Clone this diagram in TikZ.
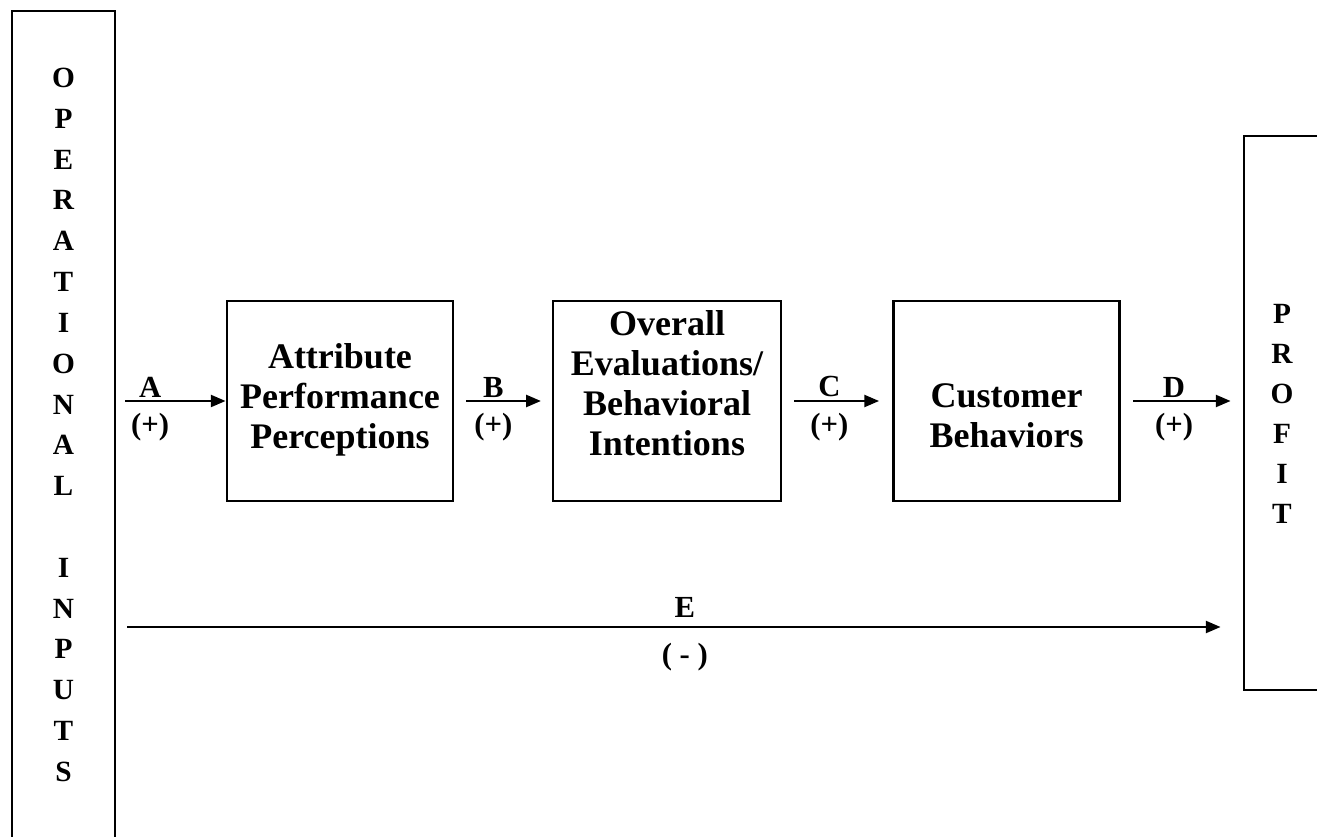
\documentclass[tikz,border=0pt]{standalone}
\usepackage{fontspec}
\setmainfont{Liberation Serif}
\usetikzlibrary{arrows.meta,positioning,calc}

\begin{document}
\begin{tikzpicture}[
  x=0.75pt, y=-0.75pt,
  frame/.style={draw=black, line width=2.2pt, inner sep=0pt},
  stage/.style={draw=black, line width=2.2pt, inner sep=0pt, minimum height=150pt},
  caption/.style={align=center, inner sep=0pt, font=\fontsize{27}{30}\selectfont\bfseries},
  flow/.style={draw=black, line width=1.6pt, -{Triangle[length=11pt,width=9pt]}},
  sign/.style={font=\fontsize{23}{24}\selectfont\bfseries, inner sep=2pt},
  letter/.style={font=\fontsize{22}{22}\selectfont\bfseries, inner sep=0pt}
]
  \useasboundingbox (0,0) rectangle (1317,837);
  \clip (0,0) rectangle (1317,837);
  % side frames, both run past the edge of the page
  \node[frame, minimum width=77.25pt, minimum height=666.75pt] (opin) at (63.5,455.5) {};
  \node[frame, minimum width=132pt, minimum height=415.5pt] (profit) at (1332,413) {};
  \foreach \ch/\k in {O/0,P/1,E/2,R/3,A/4,T/5,I/6,O/7,N/8,A/9,L/10,I/12,N/13,P/14,U/15,T/16,S/17}
    \node[letter] (op\k) at (63.5, 78+\k*40.8) {\ch};
  \foreach \ch/\k in {P/0,R/1,O/2,F/3,I/4,T/5}
    \node[letter] (pf\k) at (1282, 314+\k*40) {\ch};
  % the chain of stages
  \node[stage, minimum width=169.5pt] (attr) at (340,401) {};
  \node[stage, minimum width=171pt] (overall) at (667,401) {};
  \node[stage, minimum width=170pt] (cust) at (1006.5,401) {};
  \node[caption] (attrTxt) at (340,400) {Attribute\\Performance\\Perceptions};
  \node[caption] (overallTxt) at (667,383) {Overall\\Evaluations/\\Behavioral\\Intentions};
  \node[caption] (custTxt) at (1006.5,416) {Customer\\Behaviors};
  \coordinate (a0) at (125,401);
  \coordinate (e0) at (127,627);
  \draw[flow] (a0) -- node[sign, above, pos=0.25] (lA) {A} node[sign, below=6pt, pos=0.25] (sA) {(+)} (attr.west);
  \draw[flow, shorten <=9pt, shorten >=8pt] (attr.east) -- node[sign, above, pos=0.4] (lB) {B} node[sign, below=6pt, pos=0.4] (sB) {(+)} (overall.west);
  \draw[flow, shorten <=9pt, shorten >=9.5pt] (overall.east) -- node[sign, above, pos=0.43] (lC) {C} node[sign, below=6pt, pos=0.43] (sC) {(+)} (cust.west);
  \draw[flow, shorten <=9pt, shorten >=9pt] (cust.east) -- node[sign, above, pos=0.435] (lD) {D} node[sign, below=6pt, pos=0.435] (sD) {(+)} (profit.west |- cust.east);
  \draw[flow, shorten >=16.5pt] (e0) -- node[sign, above=4pt, pos=0.5] (lE) {E} node[sign, below=9pt, pos=0.5] (sE) {( - )} (e0 -| profit.west);
\end{tikzpicture}
\end{document}
